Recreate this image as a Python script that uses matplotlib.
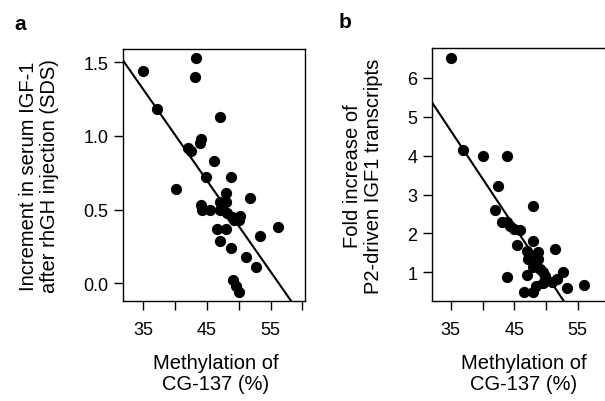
import numpy as np
import matplotlib
matplotlib.use("Agg")
import matplotlib.pyplot as plt

plt.rcParams['font.family'] = ['Liberation Sans', 'DejaVu Sans']

# panel a: methylation vs IGF-1 increment
meth_a = [35.0, 43.2, 43.05, 37.1, 47.1, 44.0, 43.9, 42.0, 42.5, 46.05,
          44.9, 48.85, 40.1, 48.0, 51.7, 47.1, 48.0, 44.0, 44.2, 45.4,
          47.0, 48.2, 49.0, 50.2, 50.1, 49.3, 46.6, 48.0, 56.2, 53.3,
          47.0, 48.8, 51.1, 52.7, 49.1, 49.6, 50.0]
igf_a = [1.44, 1.53, 1.40, 1.18, 1.13, 0.98, 0.95, 0.92, 0.90, 0.83,
         0.72, 0.72, 0.64, 0.61, 0.58, 0.55, 0.55, 0.53, 0.50, 0.50,
         0.50, 0.48, 0.45, 0.46, 0.43, 0.43, 0.37, 0.37, 0.38, 0.32,
         0.29, 0.24, 0.18, 0.11, 0.02, -0.02, -0.06]
fit_a = (3.478, -0.0618)   # intercept, slope

# panel b: methylation vs P2 transcripts fold increase
meth_b = [35.0, 36.9, 40.0, 43.8, 42.5, 48.0, 42.0, 43.0, 43.8, 44.3,
          45.0, 45.9, 45.4, 48.0, 47.0, 48.7, 51.4, 47.1, 48.7, 48.0,
          49.1, 49.6, 49.9, 52.7, 43.9, 47.0, 49.6, 50.9, 51.7, 48.4,
          46.6, 48.0, 53.3, 56.0]
fold_b = [6.51, 4.15, 4.0, 4.0, 3.23, 2.70, 2.60, 2.29, 2.29, 2.20,
          2.11, 2.09, 1.71, 1.80, 1.56, 1.51, 1.60, 1.34, 1.34, 1.14,
          1.09, 1.0, 0.91, 1.0, 0.89, 0.94, 0.72, 0.74, 0.83, 0.66,
          0.49, 0.50, 0.60, 0.68]
fit_b = (13.25, -0.246)

xticks = [35, 40, 45, 50, 55, 60]
xticklabels = ['35', '', '45', '', '55', '']

fig = plt.figure(figsize=(6.05, 4.02), dpi=100)
ax1 = fig.add_axes([0.2033, 0.2488, 0.3008, 0.6268])
ax2 = fig.add_axes([0.7136, 0.2495, 0.3008, 0.6279])


def style(ax):
    for s in ax.spines.values():
        s.set_linewidth(1.0)
    ax.tick_params(direction='out', length=6.5, width=1.0, labelsize=13)
    ax.tick_params(axis='x', pad=8)
    ax.tick_params(axis='y', pad=4)
    ax.set_xticks(xticks)
    ax.set_xticklabels(xticklabels)


ax1.scatter(meth_a, igf_a, s=50, color='black', zorder=3)
ax1.set_xlim(31.8, 60.4)
ax1.set_ylim(-0.12, 1.59)
xx = np.array(ax1.get_xlim())
ax1.plot(xx, fit_a[0] + fit_a[1] * xx, color='black', lw=1.5)
ax1.set_yticks([0.0, 0.5, 1.0, 1.5])
ax1.set_yticklabels(['0.0', '0.5', '1.0', '1.5'])
style(ax1)

ax2.scatter(meth_b, fold_b, s=50, color='black', zorder=3)
ax2.set_xlim(32.0, 60.67)
ax2.set_ylim(0.27, 6.76)
xx = np.array(ax2.get_xlim())
ax2.plot(xx, fit_b[0] + fit_b[1] * xx, color='black', lw=1.5)
ax2.set_yticks([1, 2, 3, 4, 5, 6])
style(ax2)

fig.text(39 / 605, 1 - 176 / 402, 'Increment in serum IGF-1\nafter rhGH injection (SDS)',
         rotation=90, ha='center', va='center', fontsize=14.5, linespacing=1.1)
fig.text(363 / 605, 1 - 176 / 402, 'Fold increase of\nP2-driven IGF1 transcripts',
         rotation=90, ha='center', va='center', fontsize=14.5, linespacing=1.1)
fig.text(216 / 605, 1 - 374 / 402, 'Methylation of\nCG-137 (%)',
         ha='center', va='center', fontsize=14.5, linespacing=1.1)
fig.text(524 / 605, 1 - 374 / 402, 'Methylation of\nCG-137 (%)',
         ha='center', va='center', fontsize=14.5, linespacing=1.1)
fig.text(20 / 605, 1 - 24 / 402, 'a', fontsize=15, fontweight='bold', ha='center', va='center')
fig.text(345 / 605, 1 - 22 / 402, 'b', fontsize=15, fontweight='bold', ha='center', va='center')

fig.savefig('out.png', dpi=100)
